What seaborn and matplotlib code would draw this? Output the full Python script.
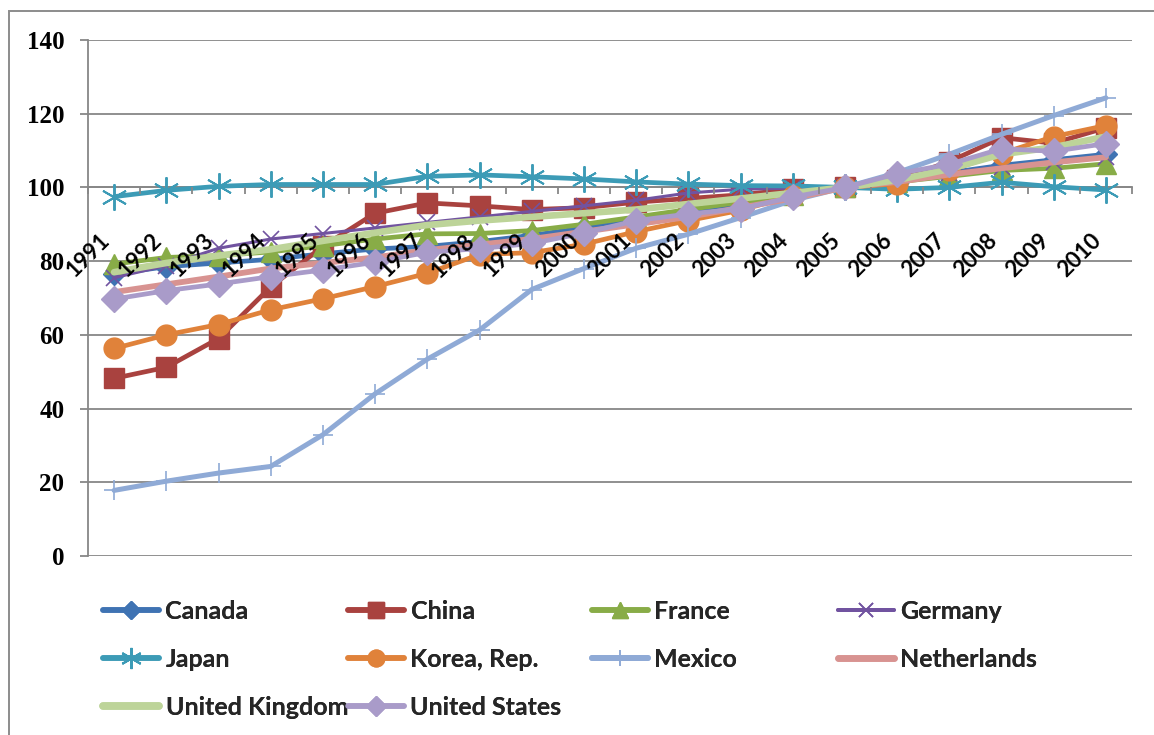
import numpy as np
import pandas as pd
import seaborn as sns
import matplotlib
matplotlib.use("Agg")
import matplotlib.pyplot as plt
from matplotlib.transforms import ScaledTranslation
from matplotlib.patches import Rectangle
from matplotlib.lines import Line2D

years = [str(y) for y in range(1991, 2011)]
canada = [76.5, 78.5, 79.5, 80.5, 82, 83.3, 84, 85.3, 87, 89, 91, 93, 95.5, 98, 100, 102, 104, 106, 107.5, 109]
china = [48.2, 51.2, 59, 73, 84, 93, 95.8, 95, 94, 94.5, 96, 97, 98, 99.5, 100, 102, 107, 113.5, 112, 116.2]
france = [79.2, 81, 81.5, 82.5, 84.2, 86, 87.4, 87.5, 88.3, 90, 92, 94, 96, 98, 100, 101.5, 103, 104.6, 105.2, 106.4]
germany = [75.5, 78.8, 83.5, 86, 87.5, 89, 90.5, 92, 93.5, 95, 96.5, 98.5, 99.5, 99.8, 100, 102, 104, 105.5, 107, 108.3]
japan = [97.5, 99.2, 100.3, 100.8, 100.8, 100.8, 103, 103.4, 102.9, 102.3, 101.5, 100.9, 100.5, 100.4, 100, 99.5, 100, 101.4, 100.2, 99.3]
korea = [56.3, 60, 62.8, 66.8, 69.8, 73.1, 76.7, 81.8, 82.3, 84.6, 88, 91, 93.8, 97.8, 100, 101, 104.6, 109.2, 113.8, 116.8]
mexico = [17.8, 20.3, 22.5, 24.3, 32.9, 44, 53.4, 61.3, 72.3, 78, 83.5, 87.3, 91.8, 96.5, 100, 104, 109, 114.4, 119.5, 124.3]
netherlands = [71.6, 73.7, 75.8, 78, 79.5, 81, 83, 84.5, 86, 88, 90, 92, 94.5, 97, 100, 101.5, 103.5, 105.2, 106.8, 108.2]
uk = [77, 79.5, 81.5, 83.2, 85.5, 87.7, 89.8, 91, 92, 93, 94, 95.5, 97, 98.5, 100, 102, 105, 109, 110.9, 113.8]
us = [69.7, 72, 73.8, 75.8, 77.6, 79.7, 82.4, 83.4, 84.8, 87.6, 91, 92.8, 94.2, 97.4, 100, 103.7, 106.3, 110.5, 109.8, 111.9]

names = ["Canada", "China", "France", "Germany", "Japan", "Korea, Rep.",
         "Mexico", "Netherlands", "United Kingdom", "United States"]
series = [canada, china, france, germany, japan, korea, mexico, netherlands, uk, us]
colors = ["#3F73B3", "#A9423F", "#88AC47", "#7153A0", "#3C9BB6", "#E0823A",
          "#8FAAD6", "#D89391", "#BDD499", "#A99BC9"]
markers = ["D", "s", "^", "x", (6, 2, 0), "o", "+", None, None, "D"]
msizes = [11, 14, 14, 12, 19, 15, 15, 0, 0, 13]
medgew = [1, 1, 1, 1.2, 1.4, 1, 1.2, 1, 1, 1]
lwidths = [3.4, 3.4, 3.4, 2.2, 3.4, 3.4, 3.6, 4.2, 4.8, 3.4]

sns.set_theme(style="white")
plt.rcParams['font.family'] = ['Lato', 'DejaVu Sans']

fig = plt.figure(figsize=(11.54, 7.35), dpi=100)
ax = fig.add_axes([88/1154, 1-556/735, (1132-88)/1154, (556-40)/735])

x = np.arange(len(years))
handles = []
for i, (nm, vals) in enumerate(zip(names, series)):
    df = pd.DataFrame({"x": x, "y": vals})
    kw = dict(color=colors[i], linewidth=lwidths[i], zorder=3 + i, ax=ax, legend=False)
    if markers[i] is not None:
        kw.update(marker=markers[i], markersize=msizes[i], markeredgecolor=colors[i],
                  markerfacecolor=colors[i], markeredgewidth=medgew[i])
    sns.lineplot(data=df, x="x", y="y", **kw)
    handles.append(Line2D([], [], color=colors[i], linewidth=lwidths[i] + 0.6,
                          marker=markers[i] if markers[i] is not None else "",
                          markersize=msizes[i] * 0.8, markeredgecolor=colors[i],
                          markerfacecolor=colors[i], markeredgewidth=medgew[i]))

grid_c = "#878787"
ax.set_xlim(-0.5, len(years) - 0.5)
ax.set_ylim(0, 140)
ax.set_yticks(range(0, 141, 20))
ax.yaxis.grid(True, color=grid_c, linewidth=1.3, zorder=0)
ax.set_axisbelow(True)
ax.xaxis.set_zorder(30)
ax.set_xlabel("")
ax.set_ylabel("")
for s in ["top", "right"]:
    ax.spines[s].set_visible(False)
ax.spines["left"].set_color(grid_c)
ax.spines["left"].set_linewidth(1.3)
ax.spines["bottom"].set_position(("data", 100))
ax.spines["bottom"].set_color(grid_c)
ax.spines["bottom"].set_linewidth(1.3)
ax.spines["bottom"].set_zorder(1)

ax.tick_params(axis="y", direction="out", length=6, width=1.3, color=grid_c, pad=11, left=True)
for lab in ax.get_yticklabels():
    lab.set_fontfamily("Liberation Serif")
    lab.set_fontweight("bold")
    lab.set_fontsize(18)
    lab.set_color("black")

ax.set_xticks(x)
ax.set_xticklabels(years, rotation=45, ha="right", va="center",
                   rotation_mode="anchor", fontsize=16, fontweight="bold", color="black")
ax.tick_params(axis="x", which="major", length=0, pad=36, bottom=True)
ax.set_xticks(np.arange(-0.5, len(years), 1.0), minor=True)
ax.tick_params(axis="x", which="minor", direction="out", length=5, width=1.3, color=grid_c, bottom=True)
for lab in ax.get_xticklabels():
    lab.set_transform(lab.get_transform() + ScaledTranslation(-8/100, 0, fig.dpi_scale_trans))

# chart border
fig.patches.append(Rectangle((9/1154, -0.2), 2.0, 1.2 - 11/735, transform=fig.transFigure,
                             fill=False, edgecolor="#8C8C8C", linewidth=1.4, zorder=0))

# legend in four columns
cols = [[0, 4, 8], [1, 5, 9], [2, 6], [3, 7]]
xpos = [103, 348, 592, 838]
for c, idxs in enumerate(cols):
    leg = fig.legend([handles[i] for i in idxs], [names[i] for i in idxs],
                     loc="upper left", bbox_to_anchor=(xpos[c]/1154, 1 - 600/735),
                     frameon=False, ncol=1, handlelength=2.25, handletextpad=0.25,
                     labelspacing=1.0, borderpad=0, borderaxespad=0,
                     prop={"family": "Lato", "weight": "bold", "size": 18})
    fig.add_artist(leg)

fig.savefig("out.png", dpi=100)
